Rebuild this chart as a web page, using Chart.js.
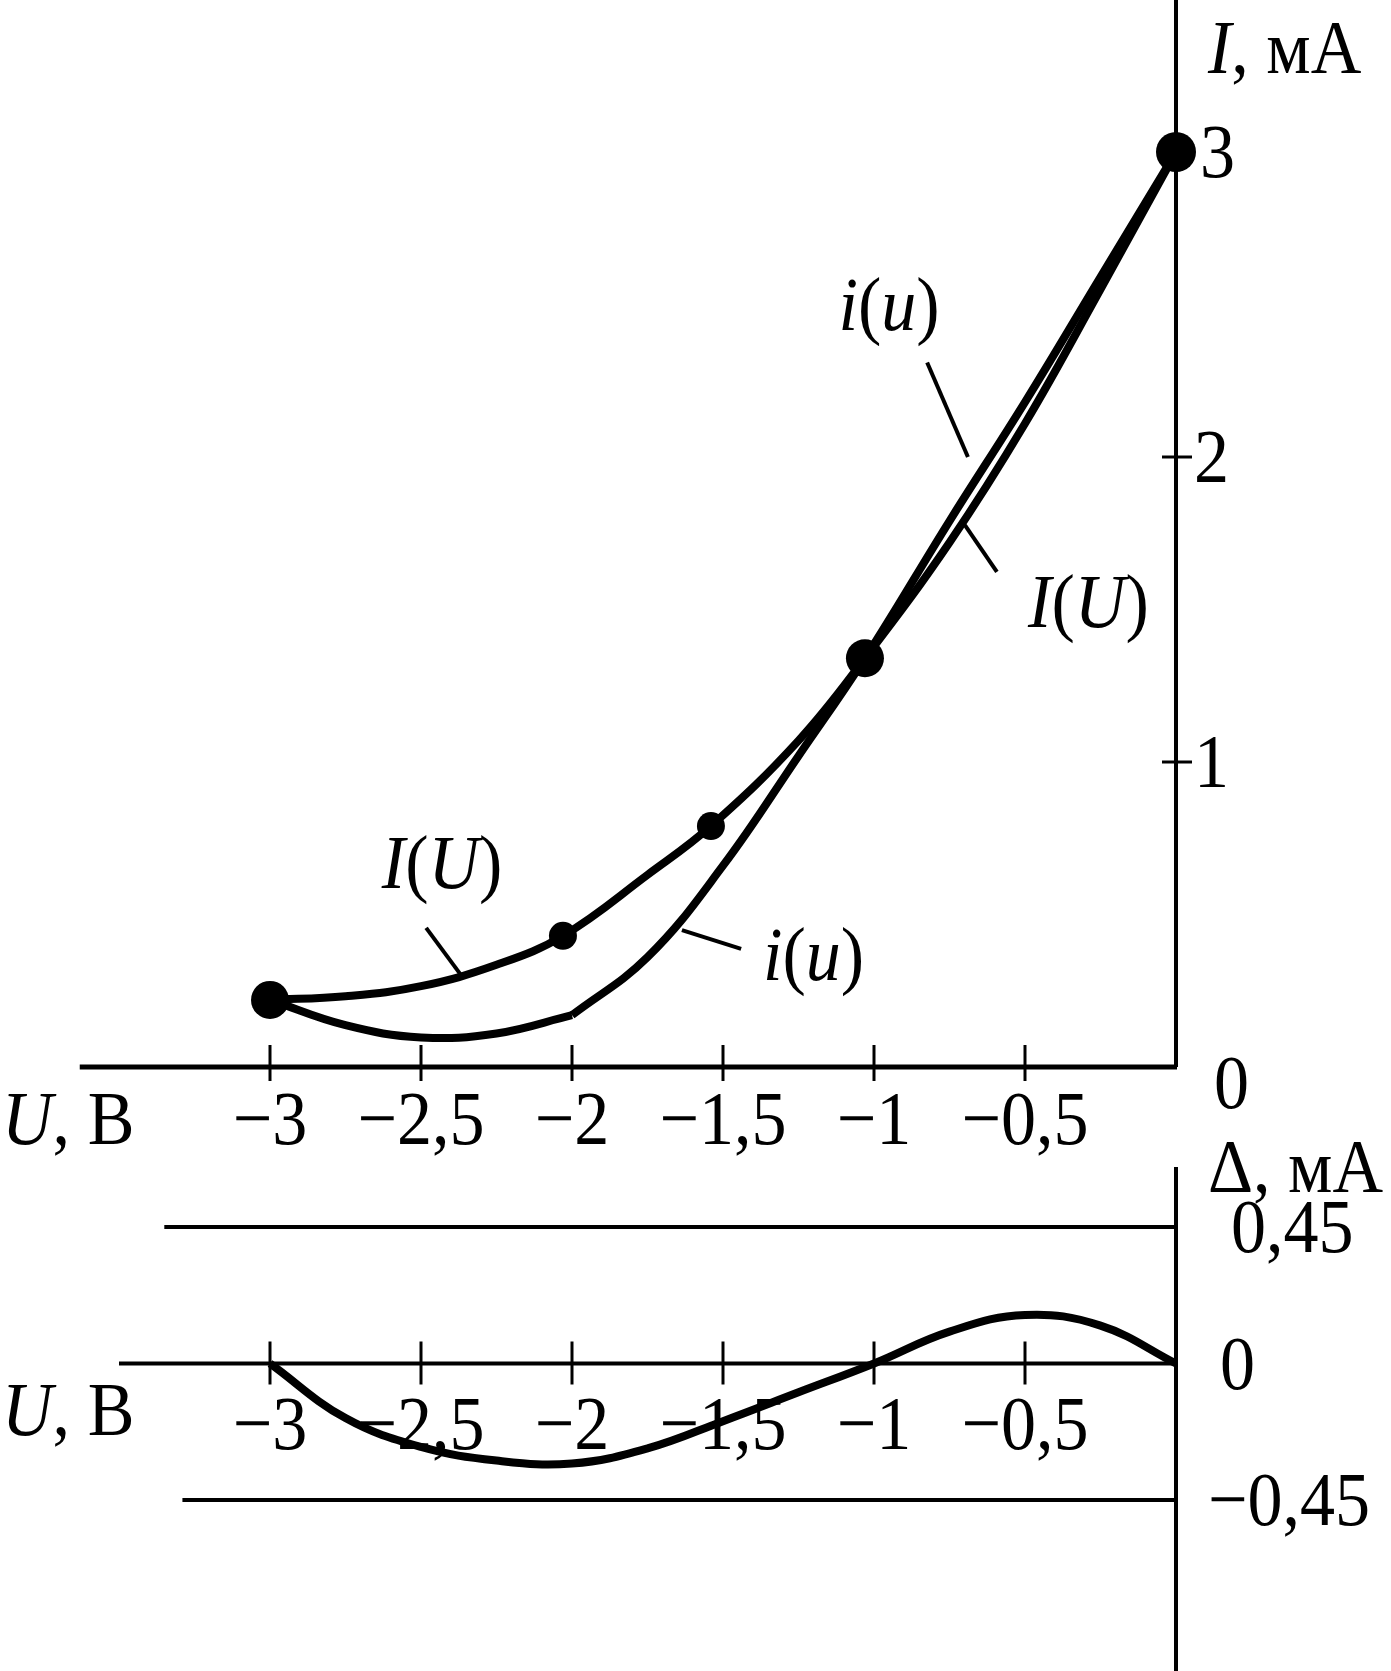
<!DOCTYPE html>
<html>
<head>
<meta charset="utf-8">
<script src="https://cdn.jsdelivr.net/npm/chart.js@4.4.0/dist/chart.umd.min.js"></script>
<style>
  html, body { margin: 0; padding: 0; background: #fff; }
  #wrap { position: relative; width: 1391px; height: 1671px; }
  canvas { position: absolute; left: 0; }
  #topChart { top: 0; }
  #deltaChart { top: 1130px; }
</style>
</head>
<body>
<div id="wrap">
  <canvas id="topChart" width="1391" height="1160"></canvas>
  <canvas id="deltaChart" width="1391" height="541"></canvas>
</div>
<script>
// I(U) - measured characteristic
const uMeasured = [-3, -2.75, -2.5, -2.25, -2.03, -1.75, -1.54, -1.25, -1.03, -0.75, -0.5, -0.25, 0];
const iMeasured = [0.22, 0.232, 0.265, 0.335, 0.43, 0.63, 0.79, 1.07, 1.34, 1.72, 2.11, 2.55, 3.0];

// measured points (dots)
const uDots = [-3, -2.03, -1.54, -1.03, 0];
const iDots = [0.22, 0.43, 0.79, 1.34, 3.0];

// i(u) - approximation, two pieces (kink at -2 V)
const uApproxLow = [-3, -2.75, -2.5, -2.25, -2];
const iApproxLow = [0.22, 0.137, 0.097, 0.11, 0.17];
const uApproxHigh = [-2, -1.75, -1.5, -1.25, -1.03, -0.75, -0.5, -0.25, 0];
const iApproxHigh = [0.17, 0.36, 0.66, 1.02, 1.34, 1.79, 2.18, 2.59, 3.0];

// error curve, mA
const uDelta = [-3, -2.75, -2.5, -2.25, -2, -1.75, -1.5, -1.25, -1, -0.75, -0.5, -0.25, 0];
const delta = [0, -0.18, -0.275, -0.32, -0.33, -0.28, -0.19, -0.095, 0, 0.105, 0.16, 0.125, 0];
const deltaLimits = [0.45, -0.45];

// ticks
const uTicks = [-3, -2.5, -2, -1.5, -1, -0.5];
const uTickLabels = ['\u22123', '\u22122,5', '\u22122', '\u22121,5', '\u22121', '\u22120,5'];
const iTicks = [1, 2, 3];
const iTickLabels = ['1', '2', '3'];
const deltaTicks = [0.45, 0, -0.45];
const deltaTickLabels = ['0,45', '0', '\u22120,45'];

const FONT = '"Liberation Serif", "Times New Roman", serif';
const FS = 77;
const SQ = 0.91; // the figure's type is a bit narrow

const pts = (xs, ys) => xs.map((v, k) => ({x: v, y: ys[k]}));

function line(ctx, x1, y1, x2, y2, w) {
  ctx.lineWidth = w;
  ctx.beginPath();
  ctx.moveTo(x1, y1);
  ctx.lineTo(x2, y2);
  ctx.stroke();
}

// parts: [[text, italic], ...], y is the visual middle of capitals/digits
function rich(ctx, parts, x, y, align) {
  ctx.save();
  ctx.fillStyle = '#000';
  ctx.textBaseline = 'alphabetic';
  ctx.textAlign = 'left';
  const font = p => (p[1] ? 'italic ' : '') + FS + 'px ' + FONT;
  let w = 0;
  parts.forEach(p => { ctx.font = font(p); w += ctx.measureText(p[0]).width; });
  ctx.translate(x, y + FS * 0.33);
  ctx.scale(SQ, 1);
  let cx = align === 'center' ? -w / 2 : (align === 'right' ? -w : 0);
  parts.forEach(p => {
    ctx.font = font(p);
    ctx.fillText(p[0], cx, 0);
    cx += ctx.measureText(p[0]).width;
  });
  ctx.restore();
}

const iu = [['i', 1], ['(', 0], ['u', 1], [')', 0]];
const IU = [['I', 1], ['(', 0], ['U', 1], [')', 0]];

// curve captions: text centre and leader line, in data units
const notes = [
  {parts: iu, at: [-0.95, 2.50], lead: [[-0.824, 2.31], [-0.689, 2.0]]},
  {parts: IU, at: [-0.29, 1.525], lead: [[-0.699, 1.777], [-0.593, 1.623]]},
  {parts: IU, at: [-2.43, 0.67], lead: [[-2.483, 0.456], [-2.368, 0.302]]},
  {parts: iu, at: [-1.2, 0.37], lead: [[-1.636, 0.449], [-1.44, 0.387]]}
];

const topAxes = {
  id: 'topAxes',
  beforeDatasetsDraw(chart) {
    const {ctx, scales: {x, y}} = chart;
    const x0 = x.getPixelForValue(0), y0 = y.getPixelForValue(0);
    ctx.save();
    ctx.strokeStyle = '#000';
    line(ctx, x.getPixelForValue(-3.63), y0, x0 + 1, y0, 5);
    line(ctx, x0, 0, x0, y0, 4);
    uTicks.forEach(v => {
      const px = x.getPixelForValue(v);
      line(ctx, px, y0 - 22, px, y0 + 14, 3);
    });
    iTicks.slice(0, 2).forEach(v => {
      const py = y.getPixelForValue(v);
      line(ctx, x0 - 14, py, x0 + 16, py, 3);
    });
    notes.forEach(n => {
      line(ctx, x.getPixelForValue(n.lead[0][0]), y.getPixelForValue(n.lead[0][1]),
        x.getPixelForValue(n.lead[1][0]), y.getPixelForValue(n.lead[1][1]), 4);
    });
    ctx.restore();
  },
  afterDatasetsDraw(chart) {
    const {ctx, scales: {x, y}} = chart;
    const x0 = x.getPixelForValue(0), y0 = y.getPixelForValue(0);
    uTicks.forEach((v, k) => rich(ctx, [[uTickLabels[k], 0]], x.getPixelForValue(v), y0 + 52, 'center'));
    iTicks.forEach((v, k) => rich(ctx, [[iTickLabels[k], 0]], x0 + (v === 3 ? 24 : 18), y.getPixelForValue(v), 'left'));
    rich(ctx, [['0', 0]], x0 + 38, y0 + 16, 'left');
    rich(ctx, [['U', 1], [', В', 0]], 2, y0 + 52, 'left');
    rich(ctx, [['I', 1], [', мА', 0]], x0 + 32, 48, 'left');
    notes.forEach(n => rich(ctx, n.parts, x.getPixelForValue(n.at[0]), y.getPixelForValue(n.at[1]), 'center'));
  }
};

const deltaAxes = {
  id: 'deltaAxes',
  beforeDatasetsDraw(chart) {
    const {ctx, scales: {x, y}} = chart;
    const x0 = x.getPixelForValue(0), y0 = y.getPixelForValue(0);
    ctx.save();
    ctx.strokeStyle = '#000';
    line(ctx, x.getPixelForValue(-3.5), y0, x0, y0, 4);
    line(ctx, x.getPixelForValue(-3.35), y.getPixelForValue(deltaLimits[0]), x0, y.getPixelForValue(deltaLimits[0]), 4);
    line(ctx, x.getPixelForValue(-3.29), y.getPixelForValue(deltaLimits[1]), x0, y.getPixelForValue(deltaLimits[1]), 4);
    line(ctx, x0, 37, x0, chart.height, 4);
    uTicks.forEach(v => {
      const px = x.getPixelForValue(v);
      line(ctx, px, y0 - 22, px, y0 + 21, 3);
    });
    ctx.restore();
  },
  afterDatasetsDraw(chart) {
    const {ctx, scales: {x, y}} = chart;
    const x0 = x.getPixelForValue(0), y0 = y.getPixelForValue(0);
    uTicks.forEach((v, k) => rich(ctx, [[uTickLabels[k], 0]], x.getPixelForValue(v), y0 + 60, 'center'));
    deltaTicks.forEach((v, k) => {
      const lx = v < 0 ? x0 + 32 : (v === 0 ? x0 + 44 : x0 + 55);
      rich(ctx, [[deltaTickLabels[k], 0]], lx, y.getPixelForValue(v), 'left');
    });
    rich(ctx, [['Δ', 0], [', мА', 0]], x0 + 32, 37, 'left');
    rich(ctx, [['U', 1], [', В', 0]], 2, y0 + 46, 'left');
  }
};

const curve = (data, extra) => Object.assign({
  data: data,
  borderColor: '#000',
  borderWidth: 8,
  pointRadius: 0,
  fill: false,
  tension: 0.4,
  clip: false
}, extra || {});

const hiddenScales = {
  x: {type: 'linear', min: -3, max: 0, display: false}
};

new Chart(document.getElementById('topChart'), {
  type: 'line',
  data: {
    datasets: [
      curve(pts(uMeasured, iMeasured)),
      curve(pts(uApproxLow, iApproxLow)),
      curve(pts(uApproxHigh, iApproxHigh)),
      {
        data: pts(uDots, iDots),
        showLine: false,
        pointRadius: [19, 14, 14, 19, 20],
        pointBackgroundColor: '#000',
        pointBorderWidth: 0,
        clip: false
      }
    ]
  },
  options: {
    responsive: false,
    animation: false,
    events: [],
    layout: {padding: {left: 270, right: 215, top: 152, bottom: 93}},
    plugins: {legend: {display: false}, tooltip: {enabled: false}},
    scales: {
      x: hiddenScales.x,
      y: {type: 'linear', min: 0, max: 3, display: false}
    }
  },
  plugins: [topAxes]
});

new Chart(document.getElementById('deltaChart'), {
  type: 'line',
  data: {
    datasets: [curve(pts(uDelta, delta))]
  },
  options: {
    responsive: false,
    animation: false,
    events: [],
    layout: {padding: {left: 270, right: 215, top: 97, bottom: 171}},
    plugins: {legend: {display: false}, tooltip: {enabled: false}},
    scales: {
      x: hiddenScales.x,
      y: {type: 'linear', min: -0.45, max: 0.45, display: false}
    }
  },
  plugins: [deltaAxes]
});
</script>
</body>
</html>
